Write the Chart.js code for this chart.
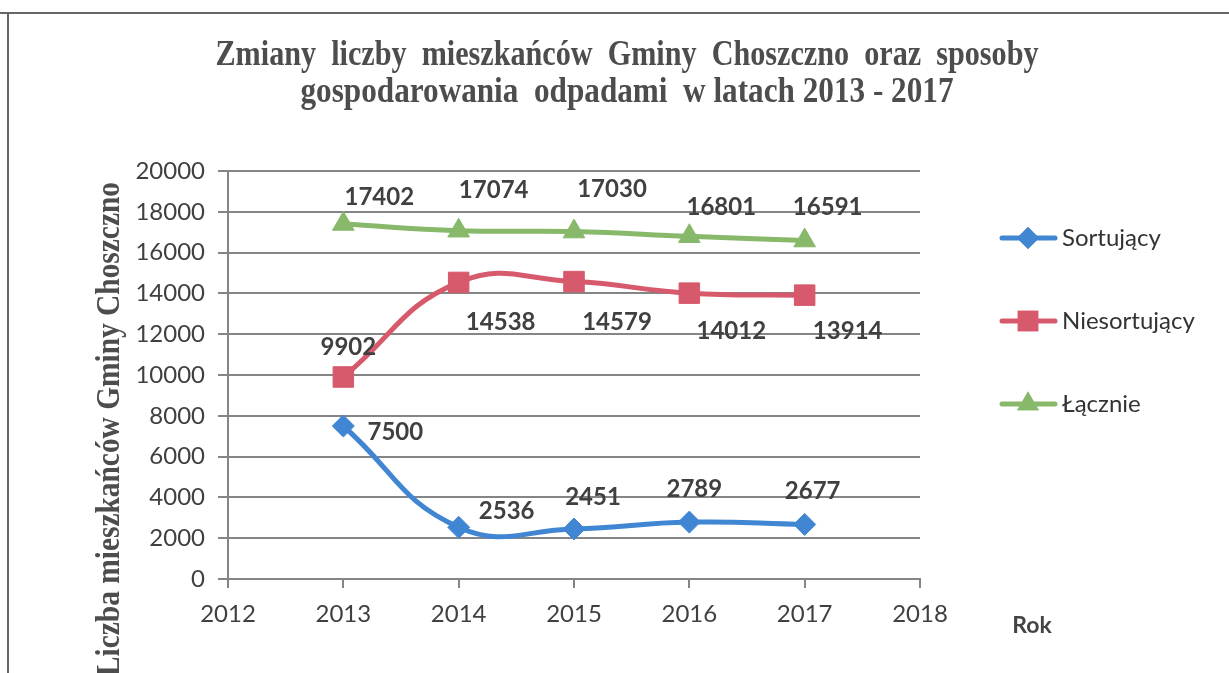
<!DOCTYPE html>
<html>
<head>
<meta charset="utf-8">
<script src="https://cdn.jsdelivr.net/npm/chart.js@4.4.0/dist/chart.umd.min.js"></script>
<style>
  html, body { margin: 0; padding: 0; background: #fff; }
  #wrap { position: relative; width: 1229px; height: 673px; }
</style>
</head>
<body>
<div id="wrap"><canvas id="chart" width="1229" height="673"></canvas></div>
<script>
// Years and series
const years = [2013, 2014, 2015, 2016, 2017];
const sortujacy = [7500, 2536, 2451, 2789, 2677];
const niesortujacy = [9902, 14538, 14579, 14012, 13914];
const lacznie = [17402, 17074, 17030, 16801, 16591];

const titleLines = [
    'Zmiany  liczby  mieszkańców  Gminy  Choszczno  oraz  sposoby',
    'gospodarowania  odpadami  w latach 2013 - 2017'
];
const yTitle = 'Liczba mieszkańców Gminy Choszczno';
const xTitle = 'Rok';

// where each value label sits relative to its point (dx, dy)
const labelOffsets = [
    [[52, 6], [48, -16], [19, -32], [5, -33], [8, -33]],
    [[5, -30], [42, 40], [43, 41], [42, 38], [43, 36]],
    [[36, -27], [35, -40], [38, -42], [32, -29], [23, -33]]
];

const toPoints = vals => vals.map((v, i) => ({ x: years[i], y: v }));

const textColor = '#404040';
const gridColor = '#858585';

// draws title, axis titles, legend, value labels and the scanned page border
const extras = {
    id: 'extras',
    afterDraw(chart) {
        const ctx = chart.ctx;
        ctx.save();

        // page border
        ctx.strokeStyle = '#666';
        ctx.lineWidth = 2;
        ctx.beginPath();
        ctx.moveTo(0, 13);
        ctx.lineTo(1229, 13);
        ctx.moveTo(8, 13);
        ctx.lineTo(8, 673);
        ctx.stroke();

        // title, narrow serif
        ctx.fillStyle = '#4d4d4d';
        ctx.font = 'bold 35px "Liberation Serif"';
        ctx.textAlign = 'center';
        ctx.textBaseline = 'alphabetic';
        const tw = [823, 653];
        const ty = [65, 102];
        titleLines.forEach((t, i) => {
            const w = ctx.measureText(t).width;
            ctx.save();
            ctx.translate(627, ty[i]);
            ctx.scale(tw[i] / w, 1);
            ctx.fillText(t, 0, 0);
            ctx.restore();
        });

        // y axis title
        ctx.save();
        ctx.font = 'bold 34px "Liberation Serif"';
        const yw = ctx.measureText(yTitle).width;
        ctx.translate(119, 676);
        ctx.rotate(-Math.PI / 2);
        ctx.scale(494 / yw, 1);
        ctx.textAlign = 'left';
        ctx.fillText(yTitle, 0, 0);
        ctx.restore();

        // x axis title
        ctx.fillStyle = '#444';
        ctx.font = 'bold 23px Lato';
        ctx.textAlign = 'center';
        ctx.textBaseline = 'middle';
        ctx.fillText(xTitle, 1032, 626);

        // legend
        const legY = [238, 321, 404];
        chart.data.datasets.forEach((ds, i) => {
            const y = legY[i];
            ctx.strokeStyle = ds.borderColor;
            ctx.lineWidth = 5;
            ctx.lineCap = 'round';
            ctx.beginPath();
            ctx.moveTo(1002, y);
            ctx.lineTo(1055, y);
            ctx.stroke();
            ctx.fillStyle = ds.pointBackgroundColor;
            Chart.helpers.drawPoint(ctx, {
                pointStyle: ds.pointStyle,
                radius: ds.pointRadius,
                borderWidth: 0,
                rotation: 0
            }, 1028, y);
            ctx.fill();
            ctx.fillStyle = '#333';
            ctx.font = '24px Lato';
            ctx.textAlign = 'left';
            ctx.textBaseline = 'middle';
            ctx.fillText(ds.label, 1062, y);
        });

        // value labels
        ctx.fillStyle = textColor;
        ctx.font = 'bold 24px Lato';
        ctx.textAlign = 'center';
        ctx.textBaseline = 'middle';
        chart.data.datasets.forEach((ds, i) => {
            const meta = chart.getDatasetMeta(i);
            meta.data.forEach((pt, j) => {
                const off = labelOffsets[i][j];
                ctx.fillText(String(ds.data[j].y), pt.x + off[0], pt.y + off[1]);
            });
        });

        ctx.restore();
    }
};

new Chart(document.getElementById('chart'), {
    type: 'line',
    data: {
        datasets: [{
            label: 'Sortujący',
            data: toPoints(sortujacy),
            borderColor: '#4086d2',
            pointBackgroundColor: '#4086d2',
            pointBorderColor: '#4086d2',
            pointStyle: 'rectRot',
            pointRadius: 11
        }, {
            label: 'Niesortujący',
            data: toPoints(niesortujacy),
            borderColor: '#d65a6c',
            pointBackgroundColor: '#d65a6c',
            pointBorderColor: '#d65a6c',
            pointStyle: 'rect',
            pointRadius: 14.5
        }, {
            label: 'Łącznie',
            data: toPoints(lacznie),
            borderColor: '#88b96b',
            pointBackgroundColor: '#88b96b',
            pointBorderColor: '#88b96b',
            pointStyle: 'triangle',
            pointRadius: 12.5
        }]
    },
    options: {
        responsive: false,
        animation: false,
        devicePixelRatio: 1,
        layout: {
            padding: { top: 171, right: 309, bottom: 0, left: 0 }
        },
        elements: {
            line: { borderWidth: 5, tension: 0.45, fill: false },
            point: { borderWidth: 1 }
        },
        plugins: {
            legend: { display: false },
            title: { display: false },
            tooltip: { enabled: false }
        },
        scales: {
            x: {
                type: 'linear',
                min: 2012,
                max: 2018,
                afterFit(scale) { scale.height = 94; },
                ticks: {
                    stepSize: 1,
                    padding: 12,
                    color: textColor,
                    font: { family: 'Lato', size: 24 },
                    callback: v => String(v)
                },
                grid: {
                    drawOnChartArea: false,
                    drawTicks: true,
                    tickLength: 9,
                    color: gridColor,
                    lineWidth: 2
                },
                border: { display: true, color: gridColor, width: 2 }
            },
            y: {
                min: 0,
                max: 20000,
                afterFit(scale) { scale.width = 228; },
                ticks: {
                    stepSize: 2000,
                    padding: 13,
                    color: textColor,
                    font: { family: 'Lato', size: 24 },
                    callback: v => String(v)
                },
                grid: {
                    drawTicks: true,
                    tickLength: 10,
                    color: gridColor,
                    lineWidth: 2
                },
                border: { display: true, color: gridColor, width: 2 }
            }
        }
    },
    plugins: [extras]
});
</script>
</body>
</html>
